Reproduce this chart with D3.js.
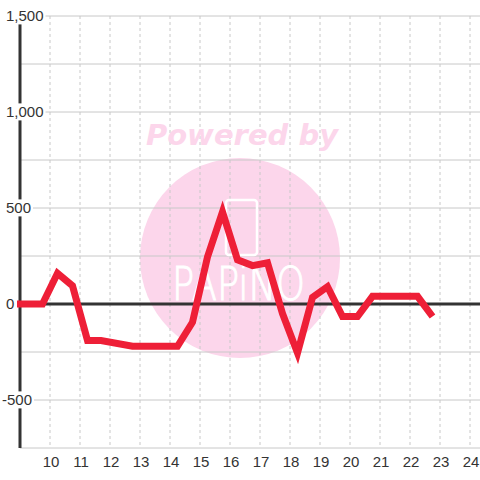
<!DOCTYPE html>
<html>
<head>
<meta charset="utf-8">
<script src="https://cdn.jsdelivr.net/npm/d3@7"></script>
<style>
  body { margin: 0; background: #fff; }
  svg { display: block; }
  text { font-family: "Liberation Sans", Arial, sans-serif; }
</style>
</head>
<body>
<div id="chart"></div>
<script>
// series: hour of day vs value
var hours = [8.9, 9.75, 10.25, 10.75, 11.25, 11.7, 12.75, 14.25, 14.75, 15.25, 15.75, 16.25, 16.75, 17.25, 17.75, 18.25, 18.75, 19.25, 19.75, 20.25, 20.75, 22.25, 22.75];
var values = [0, 0, 160, 95, -190, -190, -220, -220, -95, 245, 480, 230, 200, 215, -50, -255, 35, 90, -65, -65, 40, 40, -65];

var xTicks = [10, 11, 12, 13, 14, 15, 16, 17, 18, 19, 20, 21, 22, 23, 24];
var yGrid = [-750, -500, -250, 0, 250, 500, 750, 1000, 1250, 1500];
var yLabels = [-500, 0, 500, 1000, 1500];

var width = 480, height = 480;
var svg = d3.select('#chart').append('svg')
	.attr('width', width)
	.attr('height', height);

var x = d3.scaleLinear().domain([9, 24.3333]).range([20, 480]);
var y = d3.scaleLinear().domain([-750, 1500]).range([448, 16]);

// watermark circle (under the grid)
var wm = svg.append('g').attr('class', 'watermark');
wm.append('circle')
	.attr('cx', 240).attr('cy', 258).attr('r', 100)
	.style('fill', '#fcd6eb');

// horizontal gridlines
svg.append('g')
	.selectAll('line')
	.data(yGrid)
	.enter()
	.append('line')
	.attr('x1', 20).attr('x2', width)
	.attr('y1', function(d) { return y(d); })
	.attr('y2', function(d) { return y(d); })
	.style('stroke', '#c8c8c8')
	.style('stroke-width', 1);

// vertical dashed gridlines
svg.append('g')
	.selectAll('line')
	.data(xTicks)
	.enter()
	.append('line')
	.attr('x1', function(d) { return x(d); })
	.attr('x2', function(d) { return x(d); })
	.attr('y1', y(1500)).attr('y2', y(-750))
	.style('stroke', '#c8c8c8')
	.style('stroke-width', 1)
	.style('stroke-dasharray', '3,3');

// watermark text + logo
wm = svg.append('g');
wm.append('text')
	.attr('x', 242).attr('y', 145)
	.attr('text-anchor', 'middle')
	.style('font-family', '"DejaVu Sans", sans-serif')
	.style('font-weight', 'bold')
	.style('font-style', 'italic')
	.style('font-size', '29px')
	.style('fill', '#fcd6eb')
	.text('Powered by');
wm.append('rect')
	.attr('x', 226).attr('y', 200).attr('width', 31).attr('height', 55).attr('rx', 3)
	.style('fill', 'none')
	.style('stroke', '#fff')
	.style('stroke-width', 2.5);
wm.append('text')
	.attr('x', 172).attr('y', 300)
	.attr('textLength', 133)
	.attr('lengthAdjust', 'spacingAndGlyphs')
	.style('font-family', '"DejaVu Sans", sans-serif')
	.style('font-weight', 200)
	.style('font-size', '46px')
	.style('fill', '#fff')
	.style('stroke', '#fff')
	.style('stroke-width', 1)
	.text('PAPiNO');

// zero line
svg.append('line')
	.attr('x1', 20).attr('x2', width)
	.attr('y1', y(0)).attr('y2', y(0))
	.style('stroke', '#333')
	.style('stroke-width', 3);

// left axis line
svg.append('line')
	.attr('x1', 20).attr('x2', 20)
	.attr('y1', y(1500)).attr('y2', y(-750))
	.style('stroke', '#333')
	.style('stroke-width', 3);

// the series
var line = d3.line()
	.x(function(d, i) { return x(hours[i]); })
	.y(function(d) { return y(d); });
svg.append('path')
	.datum(values)
	.attr('d', line)
	.style('fill', 'none')
	.style('stroke', '#ee1f37')
	.style('stroke-width', 7)
	.style('stroke-linejoin', 'miter')
	.style('stroke-linecap', 'butt');

// y labels with white backgrounds
var yl = svg.append('g')
	.selectAll('g')
	.data(yLabels)
	.enter()
	.append('g')
	.attr('transform', function(d) { return 'translate(0,' + y(d) + ')'; });
yl.append('text')
	.attr('x', function(d) { return d < 0 ? 2 : 6; })
	.attr('dy', '0.36em')
	.style('font-size', '15px')
	.style('fill', '#333')
	.text(function(d) { return d3.format(',')(d).replace('\u2212', '-'); });
yl.each(function() {
	var t = d3.select(this).select('text');
	var b = t.node().getBBox();
	d3.select(this).insert('rect', 'text')
		.attr('x', b.x - 2).attr('y', b.y)
		.attr('width', b.width + 4).attr('height', b.height)
		.style('fill', '#fff');
});

// x labels
svg.append('g')
	.selectAll('text')
	.data(xTicks)
	.enter()
	.append('text')
	.attr('x', function(d) { return x(d) + 1; })
	.attr('y', 467)
	.attr('text-anchor', 'middle')
	.style('font-size', '15px')
	.style('fill', '#333')
	.text(function(d) { return d; });
</script>
</body>
</html>
